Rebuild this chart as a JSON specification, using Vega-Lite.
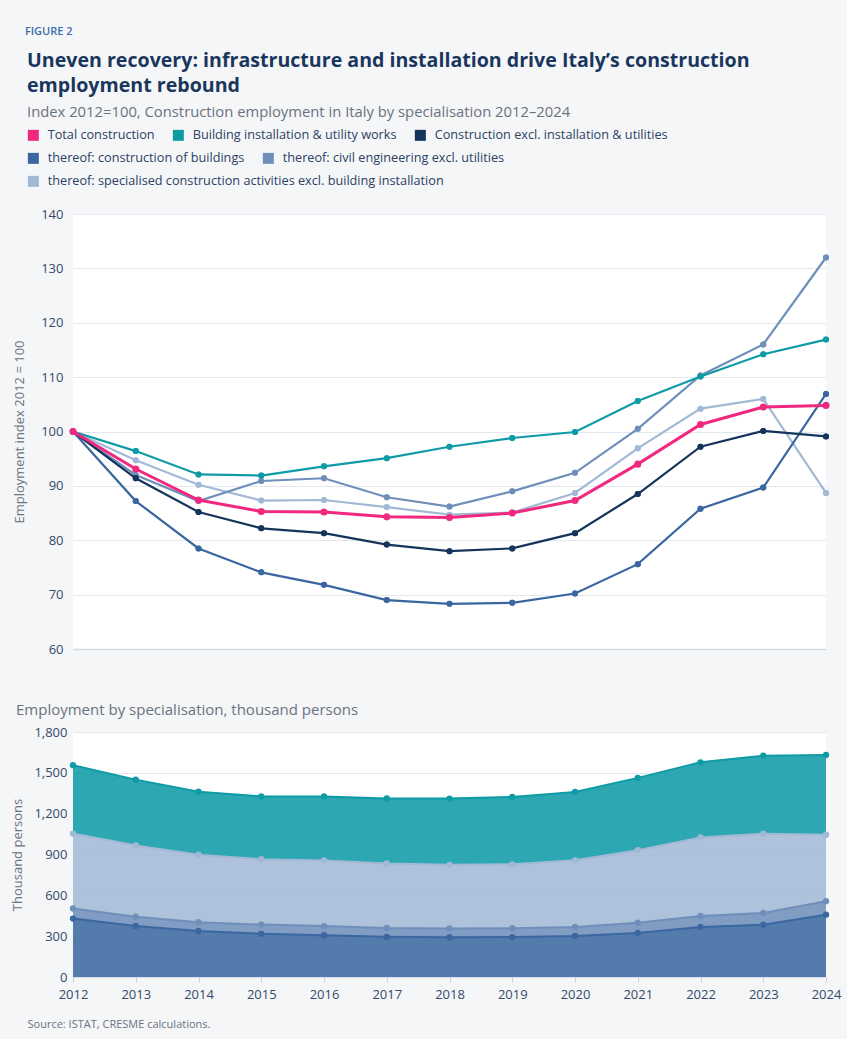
{
  "$schema": "https://vega.github.io/schema/vega-lite/v6.json",
  "background": "#f5f6f8",
  "padding": {"left": 11, "top": 25, "right": 11, "bottom": 10},
  "config": {
    "font": "Open Sans",
    "view": {"fill": "#ffffff", "stroke": null},
    "axis": {"labelFontSize": 13, "labelColor": "#34496a", "titleFontSize": 13, "titleColor": "#6b7280", "titleFontWeight": "normal", "gridColor": "#e4e8ee", "domainColor": "#d5dbe3"},
    "legend": {"symbolType": "square", "symbolSize": 121, "symbolStrokeWidth": 0, "symbolOpacity": 1, "labelFontSize": 12.7, "labelColor": "#2c4163", "labelOffset": 8, "columnPadding": 17, "rowPadding": 10, "padding": 0, "labelLimit": 600}
  },
  "title": {"text": "FIGURE 2", "anchor": "start", "dx": 13, "fontSize": 11, "fontWeight": 600, "color": "#3b6ea8", "offset": 14},
  "datasets": {
    "idx": [
      {"year": 2012, "series": "Total construction", "value": 100},
      {"year": 2013, "series": "Total construction", "value": 93.1},
      {"year": 2014, "series": "Total construction", "value": 87.4},
      {"year": 2015, "series": "Total construction", "value": 85.3},
      {"year": 2016, "series": "Total construction", "value": 85.2},
      {"year": 2017, "series": "Total construction", "value": 84.3},
      {"year": 2018, "series": "Total construction", "value": 84.2},
      {"year": 2019, "series": "Total construction", "value": 85.0},
      {"year": 2020, "series": "Total construction", "value": 87.3},
      {"year": 2021, "series": "Total construction", "value": 94.0},
      {"year": 2022, "series": "Total construction", "value": 101.3},
      {"year": 2023, "series": "Total construction", "value": 104.5},
      {"year": 2024, "series": "Total construction", "value": 104.8},
      {"year": 2012, "series": "Building installation & utility works", "value": 100},
      {"year": 2013, "series": "Building installation & utility works", "value": 96.4},
      {"year": 2014, "series": "Building installation & utility works", "value": 92.1},
      {"year": 2015, "series": "Building installation & utility works", "value": 91.9},
      {"year": 2016, "series": "Building installation & utility works", "value": 93.6},
      {"year": 2017, "series": "Building installation & utility works", "value": 95.1},
      {"year": 2018, "series": "Building installation & utility works", "value": 97.2},
      {"year": 2019, "series": "Building installation & utility works", "value": 98.8},
      {"year": 2020, "series": "Building installation & utility works", "value": 99.9},
      {"year": 2021, "series": "Building installation & utility works", "value": 105.6},
      {"year": 2022, "series": "Building installation & utility works", "value": 110.1},
      {"year": 2023, "series": "Building installation & utility works", "value": 114.2},
      {"year": 2024, "series": "Building installation & utility works", "value": 116.9},
      {"year": 2012, "series": "Construction excl. installation & utilities", "value": 100},
      {"year": 2013, "series": "Construction excl. installation & utilities", "value": 91.4},
      {"year": 2014, "series": "Construction excl. installation & utilities", "value": 85.2},
      {"year": 2015, "series": "Construction excl. installation & utilities", "value": 82.2},
      {"year": 2016, "series": "Construction excl. installation & utilities", "value": 81.3},
      {"year": 2017, "series": "Construction excl. installation & utilities", "value": 79.2},
      {"year": 2018, "series": "Construction excl. installation & utilities", "value": 78.0},
      {"year": 2019, "series": "Construction excl. installation & utilities", "value": 78.5},
      {"year": 2020, "series": "Construction excl. installation & utilities", "value": 81.3},
      {"year": 2021, "series": "Construction excl. installation & utilities", "value": 88.5},
      {"year": 2022, "series": "Construction excl. installation & utilities", "value": 97.2},
      {"year": 2023, "series": "Construction excl. installation & utilities", "value": 100.1},
      {"year": 2024, "series": "Construction excl. installation & utilities", "value": 99.1},
      {"year": 2012, "series": "thereof: construction of buildings", "value": 100},
      {"year": 2013, "series": "thereof: construction of buildings", "value": 87.2},
      {"year": 2014, "series": "thereof: construction of buildings", "value": 78.5},
      {"year": 2015, "series": "thereof: construction of buildings", "value": 74.1},
      {"year": 2016, "series": "thereof: construction of buildings", "value": 71.8},
      {"year": 2017, "series": "thereof: construction of buildings", "value": 69.0},
      {"year": 2018, "series": "thereof: construction of buildings", "value": 68.3},
      {"year": 2019, "series": "thereof: construction of buildings", "value": 68.5},
      {"year": 2020, "series": "thereof: construction of buildings", "value": 70.2},
      {"year": 2021, "series": "thereof: construction of buildings", "value": 75.6},
      {"year": 2022, "series": "thereof: construction of buildings", "value": 85.8},
      {"year": 2023, "series": "thereof: construction of buildings", "value": 89.7},
      {"year": 2024, "series": "thereof: construction of buildings", "value": 106.9},
      {"year": 2012, "series": "thereof: civil engineering excl. utilities", "value": 100},
      {"year": 2013, "series": "thereof: civil engineering excl. utilities", "value": 92.0},
      {"year": 2014, "series": "thereof: civil engineering excl. utilities", "value": 87.2},
      {"year": 2015, "series": "thereof: civil engineering excl. utilities", "value": 90.9},
      {"year": 2016, "series": "thereof: civil engineering excl. utilities", "value": 91.4},
      {"year": 2017, "series": "thereof: civil engineering excl. utilities", "value": 87.9},
      {"year": 2018, "series": "thereof: civil engineering excl. utilities", "value": 86.2},
      {"year": 2019, "series": "thereof: civil engineering excl. utilities", "value": 89.0},
      {"year": 2020, "series": "thereof: civil engineering excl. utilities", "value": 92.4},
      {"year": 2021, "series": "thereof: civil engineering excl. utilities", "value": 100.5},
      {"year": 2022, "series": "thereof: civil engineering excl. utilities", "value": 110.3},
      {"year": 2023, "series": "thereof: civil engineering excl. utilities", "value": 116.0},
      {"year": 2024, "series": "thereof: civil engineering excl. utilities", "value": 132.0},
      {"year": 2012, "series": "thereof: specialised construction activities excl. building installation", "value": 100},
      {"year": 2013, "series": "thereof: specialised construction activities excl. building installation", "value": 94.7},
      {"year": 2014, "series": "thereof: specialised construction activities excl. building installation", "value": 90.2},
      {"year": 2015, "series": "thereof: specialised construction activities excl. building installation", "value": 87.3},
      {"year": 2016, "series": "thereof: specialised construction activities excl. building installation", "value": 87.4},
      {"year": 2017, "series": "thereof: specialised construction activities excl. building installation", "value": 86.1},
      {"year": 2018, "series": "thereof: specialised construction activities excl. building installation", "value": 84.7},
      {"year": 2019, "series": "thereof: specialised construction activities excl. building installation", "value": 85.1},
      {"year": 2020, "series": "thereof: specialised construction activities excl. building installation", "value": 88.7},
      {"year": 2021, "series": "thereof: specialised construction activities excl. building installation", "value": 96.9},
      {"year": 2022, "series": "thereof: specialised construction activities excl. building installation", "value": 104.2},
      {"year": 2023, "series": "thereof: specialised construction activities excl. building installation", "value": 106.0},
      {"year": 2024, "series": "thereof: specialised construction activities excl. building installation", "value": 88.7}
    ],
    "emp": [
      {"year": 2012, "series": "thereof: construction of buildings", "value": 429},
      {"year": 2013, "series": "thereof: construction of buildings", "value": 375},
      {"year": 2014, "series": "thereof: construction of buildings", "value": 338},
      {"year": 2015, "series": "thereof: construction of buildings", "value": 317},
      {"year": 2016, "series": "thereof: construction of buildings", "value": 307},
      {"year": 2017, "series": "thereof: construction of buildings", "value": 295},
      {"year": 2018, "series": "thereof: construction of buildings", "value": 292},
      {"year": 2019, "series": "thereof: construction of buildings", "value": 293},
      {"year": 2020, "series": "thereof: construction of buildings", "value": 301},
      {"year": 2021, "series": "thereof: construction of buildings", "value": 324},
      {"year": 2022, "series": "thereof: construction of buildings", "value": 368},
      {"year": 2023, "series": "thereof: construction of buildings", "value": 384},
      {"year": 2024, "series": "thereof: construction of buildings", "value": 458},
      {"year": 2012, "series": "thereof: civil engineering excl. utilities", "value": 74},
      {"year": 2013, "series": "thereof: civil engineering excl. utilities", "value": 68},
      {"year": 2014, "series": "thereof: civil engineering excl. utilities", "value": 64},
      {"year": 2015, "series": "thereof: civil engineering excl. utilities", "value": 68},
      {"year": 2016, "series": "thereof: civil engineering excl. utilities", "value": 67},
      {"year": 2017, "series": "thereof: civil engineering excl. utilities", "value": 65},
      {"year": 2018, "series": "thereof: civil engineering excl. utilities", "value": 65},
      {"year": 2019, "series": "thereof: civil engineering excl. utilities", "value": 66},
      {"year": 2020, "series": "thereof: civil engineering excl. utilities", "value": 67},
      {"year": 2021, "series": "thereof: civil engineering excl. utilities", "value": 75},
      {"year": 2022, "series": "thereof: civil engineering excl. utilities", "value": 81},
      {"year": 2023, "series": "thereof: civil engineering excl. utilities", "value": 86},
      {"year": 2024, "series": "thereof: civil engineering excl. utilities", "value": 99},
      {"year": 2012, "series": "thereof: specialised construction activities excl. building installation", "value": 551},
      {"year": 2013, "series": "thereof: specialised construction activities excl. building installation", "value": 523},
      {"year": 2014, "series": "thereof: specialised construction activities excl. building installation", "value": 497},
      {"year": 2015, "series": "thereof: specialised construction activities excl. building installation", "value": 480},
      {"year": 2016, "series": "thereof: specialised construction activities excl. building installation", "value": 482},
      {"year": 2017, "series": "thereof: specialised construction activities excl. building installation", "value": 474},
      {"year": 2018, "series": "thereof: specialised construction activities excl. building installation", "value": 467},
      {"year": 2019, "series": "thereof: specialised construction activities excl. building installation", "value": 469},
      {"year": 2020, "series": "thereof: specialised construction activities excl. building installation", "value": 489},
      {"year": 2021, "series": "thereof: specialised construction activities excl. building installation", "value": 533},
      {"year": 2022, "series": "thereof: specialised construction activities excl. building installation", "value": 576},
      {"year": 2023, "series": "thereof: specialised construction activities excl. building installation", "value": 583},
      {"year": 2024, "series": "thereof: specialised construction activities excl. building installation", "value": 488},
      {"year": 2012, "series": "Building installation & utility works", "value": 502},
      {"year": 2013, "series": "Building installation & utility works", "value": 484},
      {"year": 2014, "series": "Building installation & utility works", "value": 462},
      {"year": 2015, "series": "Building installation & utility works", "value": 462},
      {"year": 2016, "series": "Building installation & utility works", "value": 471},
      {"year": 2017, "series": "Building installation & utility works", "value": 478},
      {"year": 2018, "series": "Building installation & utility works", "value": 487},
      {"year": 2019, "series": "Building installation & utility works", "value": 495},
      {"year": 2020, "series": "Building installation & utility works", "value": 502},
      {"year": 2021, "series": "Building installation & utility works", "value": 531},
      {"year": 2022, "series": "Building installation & utility works", "value": 552},
      {"year": 2023, "series": "Building installation & utility works", "value": 573},
      {"year": 2024, "series": "Building installation & utility works", "value": 586}
    ]
  },
  "vconcat": [
    {
      "width": 753,
      "height": 435,
      "title": {
        "text": ["Uneven recovery: infrastructure and installation drive Italy’s construction", "employment rebound"],
        "subtitle": "Index 2012=100, Construction employment in Italy by specialisation 2012–2024",
        "anchor": "start", "frame": "group", "dx": -46, "fontSize": 19.6, "fontWeight": "bold", "color": "#1b365d", "lineHeight": 25,
        "subtitleFontSize": 14.8, "subtitleColor": "#6b7280", "subtitlePadding": 9, "offset": 8
      },
      "data": {"name": "idx"},
      "encoding": {
        "x": {"field": "year", "type": "quantitative", "scale": {"domain": [2012, 2024], "nice": false},
              "axis": {"labels": false, "ticks": false, "grid": false, "title": null, "domainWidth": 1.5}},
        "y": {"field": "value", "type": "quantitative", "scale": {"domain": [60, 140], "nice": false},
              "axis": {"values": [60, 70, 80, 90, 100, 110, 120, 130, 140], "grid": true, "domain": false, "ticks": false, "labelPadding": 10, "title": "Employment index 2012 = 100", "titlePadding": 14}}
      },
      "layer": [
        {
          "transform": [{"filter": {"field": "series", "equal": "thereof: specialised construction activities excl. building installation"}}],
          "layer": [
            {"mark": {"type": "point", "filled": true, "size": 36, "opacity": 1},
             "encoding": {"color": {"field": "series", "type": "nominal",
               "scale": {"domain": ["thereof: specialised construction activities excl. building installation"], "range": ["#a2b9d6"]},
               "legend": {"orient": "none", "legendX": -46, "legendY": -39, "direction": "horizontal", "symbolType": "square", "title": null}}}},
            {"mark": {"type": "line", "strokeWidth": 2.2},
             "encoding": {"color": {"field": "series", "type": "nominal", "legend": null,
               "scale": {"domain": ["thereof: specialised construction activities excl. building installation"], "range": ["#a2b9d6"]}}}},
            {"mark": {"type": "point", "filled": true, "size": 36, "opacity": 1},
             "encoding": {"color": {"field": "series", "type": "nominal", "legend": null,
               "scale": {"domain": ["thereof: specialised construction activities excl. building installation"], "range": ["#a2b9d6"]}}}}
          ]
        },
        {
          "transform": [{"filter": {"field": "series", "oneOf": ["thereof: construction of buildings", "thereof: civil engineering excl. utilities"]}}],
          "layer": [
            {"mark": {"type": "point", "filled": true, "size": 36, "opacity": 1},
             "encoding": {"color": {"field": "series", "type": "nominal",
               "scale": {"domain": ["thereof: construction of buildings", "thereof: civil engineering excl. utilities"], "range": ["#3a67a0", "#6f8fba"]},
               "legend": {"orient": "none", "legendX": -46, "legendY": -62, "direction": "horizontal", "columns": 2, "gridAlign": "none", "symbolType": "square", "title": null}}}},
            {"mark": {"type": "line", "strokeWidth": 2.2},
             "encoding": {"color": {"field": "series", "type": "nominal", "legend": null,
               "scale": {"domain": ["thereof: construction of buildings", "thereof: civil engineering excl. utilities"], "range": ["#3a67a0", "#6f8fba"]}}}},
            {"mark": {"type": "point", "filled": true, "size": 36, "opacity": 1},
             "encoding": {"color": {"field": "series", "type": "nominal", "legend": null,
               "scale": {"domain": ["thereof: construction of buildings", "thereof: civil engineering excl. utilities"], "range": ["#3a67a0", "#6f8fba"]}}}}
          ]
        },
        {
          "layer": [
            {"transform": [{"filter": {"field": "series", "oneOf": ["Building installation & utility works", "Construction excl. installation & utilities"]}}],
             "mark": {"type": "point", "filled": true, "size": 36, "opacity": 1},
             "encoding": {"color": {"field": "series", "type": "nominal",
               "scale": {"domain": ["Total construction", "Building installation & utility works", "Construction excl. installation & utilities"], "range": ["#f0297f", "#0e9ba6", "#15345b"]},
               "legend": {"orient": "none", "legendX": -46, "legendY": -85, "direction": "horizontal", "columns": 3, "gridAlign": "none", "symbolType": "square", "title": null}}}},
            {"transform": [{"filter": {"field": "series", "oneOf": ["Building installation & utility works", "Construction excl. installation & utilities"]}}],
             "mark": {"type": "line", "strokeWidth": 2.2},
             "encoding": {"color": {"field": "series", "type": "nominal", "legend": null,
               "scale": {"domain": ["Total construction", "Building installation & utility works", "Construction excl. installation & utilities"], "range": ["#f0297f", "#0e9ba6", "#15345b"]}}}},
            {"transform": [{"filter": {"field": "series", "oneOf": ["Building installation & utility works", "Construction excl. installation & utilities"]}}],
             "mark": {"type": "point", "filled": true, "size": 36, "opacity": 1},
             "encoding": {"color": {"field": "series", "type": "nominal", "legend": null,
               "scale": {"domain": ["Total construction", "Building installation & utility works", "Construction excl. installation & utilities"], "range": ["#f0297f", "#0e9ba6", "#15345b"]}}}},
            {"transform": [{"filter": {"field": "series", "equal": "Total construction"}}],
             "mark": {"type": "line", "strokeWidth": 3},
             "encoding": {"color": {"field": "series", "type": "nominal", "legend": null,
               "scale": {"domain": ["Total construction", "Building installation & utility works", "Construction excl. installation & utilities"], "range": ["#f0297f", "#0e9ba6", "#15345b"]}}}},
            {"transform": [{"filter": {"field": "series", "equal": "Total construction"}}],
             "mark": {"type": "point", "filled": true, "size": 50, "opacity": 1},
             "encoding": {"color": {"field": "series", "type": "nominal", "legend": null,
               "scale": {"domain": ["Total construction", "Building installation & utility works", "Construction excl. installation & utilities"], "range": ["#f0297f", "#0e9ba6", "#15345b"]}}}}
          ]
        }
      ],
      "resolve": {"scale": {"color": "independent"}}
    },
    {
      "width": 753,
      "height": 245,
      "title": {"text": "Employment by specialisation, thousand persons", "anchor": "start", "frame": "group", "dx": -57, "fontSize": 15, "fontWeight": "normal", "color": "#6b7280", "offset": 8},
      "data": {"name": "emp"},
      "transform": [
        {"calculate": "indexof(['thereof: construction of buildings', 'thereof: civil engineering excl. utilities', 'thereof: specialised construction activities excl. building installation', 'Building installation & utility works'], datum.series)", "as": "ord"},
        {"stack": "value", "groupby": ["year"], "sort": [{"field": "ord", "order": "ascending"}], "as": ["v0", "v1"]}
      ],
      "encoding": {
        "x": {"field": "year", "type": "quantitative", "scale": {"domain": [2012, 2024], "nice": false},
              "axis": {"values": [2012, 2013, 2014, 2015, 2016, 2017, 2018, 2019, 2020, 2021, 2022, 2023, 2024], "format": "d", "labelFlush": false, "grid": false, "ticks": true, "tickSize": 5, "tickColor": "#c9d0da", "labelPadding": 6,
                       "title": "Source: ISTAT, CRESME calculations.", "titleAnchor": "start", "titleAlign": "left", "titleX": -46, "titleFontSize": 11, "titleColor": "#6b7280", "titlePadding": 17}},
        "color": {"field": "series", "type": "nominal", "legend": null,
                  "scale": {"domain": ["thereof: construction of buildings", "thereof: civil engineering excl. utilities", "thereof: specialised construction activities excl. building installation", "Building installation & utility works"], "range": ["#3a67a0", "#6f8fba", "#a2b9d6", "#0e9ba6"]}}
      },
      "layer": [
        {"mark": {"type": "area", "opacity": 0.87},
         "encoding": {"y": {"field": "v1", "type": "quantitative", "scale": {"domain": [0, 1800], "nice": false},
                            "axis": {"values": [0, 300, 600, 900, 1200, 1500, 1800], "format": ",.0f", "grid": true, "domain": false, "ticks": false, "labelPadding": 6, "title": "Thousand persons", "titlePadding": 9}},
                      "y2": {"field": "v0"}}},
        {"mark": {"type": "line", "strokeWidth": 2},
         "encoding": {"y": {"field": "v1", "type": "quantitative"}}},
        {"mark": {"type": "point", "filled": true, "size": 40, "opacity": 1},
         "encoding": {"y": {"field": "v1", "type": "quantitative"}}}
      ]
    }
  ],
  "spacing": 47
}
